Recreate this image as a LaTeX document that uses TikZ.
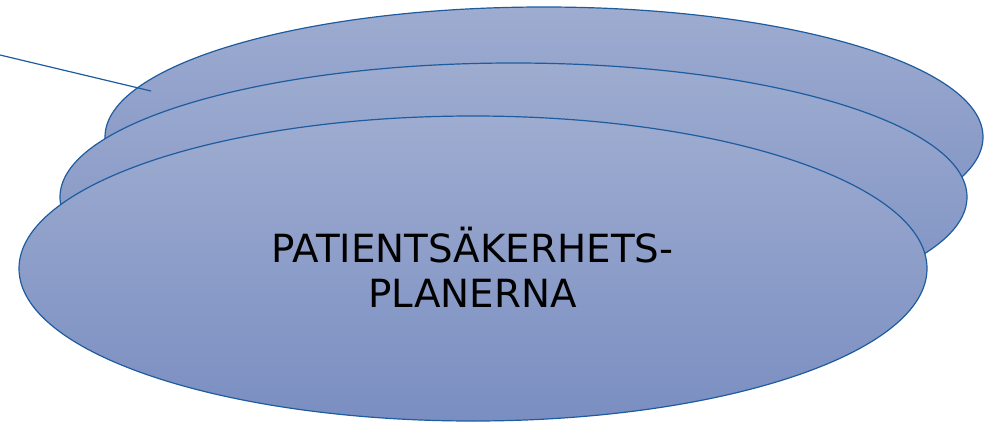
\documentclass[tikz,border=0pt]{standalone}
\usepackage{fontspec}
\setmainfont{DejaVu Sans}
\definecolor{topfill}{RGB}{158,172,208}
\definecolor{botfill}{RGB}{122,142,193}
\definecolor{edge}{RGB}{30,92,160}
\begin{document}
\begin{tikzpicture}[x=1pt,y=-1pt,
  disc/.style={draw=edge,line width=1.2pt,top color=topfill,bottom color=botfill},
  lbl/.style={font=\fontsize{38.8}{45}\selectfont,text=black,anchor=base,inner sep=0pt}]
\useasboundingbox (0,0) rectangle (990,423);
\path[disc] (544,137) ellipse [x radius=439,y radius=130];
\coordinate (lstart) at (0,55);
\coordinate (lend) at (151,91);
\draw[edge,line width=1.2pt] (lstart) -- (lend);
\path[disc] (513.5,197) ellipse [x radius=453.5,y radius=134];
\path[disc] (473,268.5) ellipse [x radius=454,y radius=152.5];
\node[lbl] (t1) at (472.5,262) {PATIENTSÄKERHETS-};
\node[lbl] (t2) at (472.5,307) {PLANERNA};
\end{tikzpicture}
\end{document}
